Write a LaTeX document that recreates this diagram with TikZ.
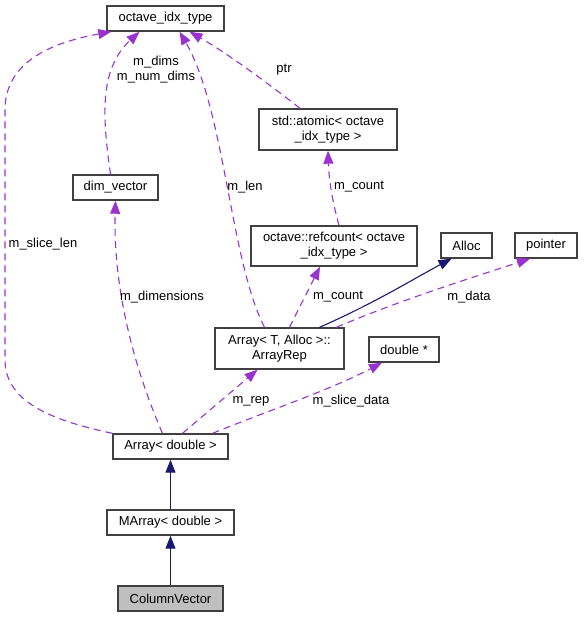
\documentclass[tikz,border=0pt]{standalone}
\usepackage{fontspec}
\setmainfont{Liberation Sans}
\usetikzlibrary{arrows.meta}
\definecolor{dep}{HTML}{9A32CD}
\definecolor{inh}{HTML}{191970}
\definecolor{bord}{HTML}{404040}
\tikzset{
  cls/.style={draw=bord, line width=1.4pt, fill=white, inner sep=0pt, align=center,
    font=\fontsize{13}{15}\selectfont, text=black},
  depline/.style={draw=dep, line width=1.1pt, dash pattern=on 7pt off 5pt,
    -{Triangle[length=13pt,width=10pt,color=dep,fill=dep]}},
  inhline/.style={draw=inh, line width=1.1pt,
    -{Triangle[length=13pt,width=10pt,color=inh,fill=inh]}},
  lbl/.style={font=\fontsize{13}{15}\selectfont, inner sep=0pt, align=center}
}
\begin{document}
\begin{tikzpicture}[x=1pt,y=-1pt]
\useasboundingbox (0,0) rectangle (583,617);
% nodes
\node[cls, minimum width=117, minimum height=25] (oit) at (165.5,18.5) {octave\_idx\_type};
\node[cls, minimum width=138, minimum height=41] (atom) at (328,129.5) {std::atomic< octave\\\_idx\_type >};
\node[cls, minimum width=85, minimum height=25] (dimv) at (115.5,187.5) {dim\_vector};
\node[cls, minimum width=166, minimum height=40] (refc) at (334,246) {octave::refcount< octave\\\_idx\_type >};
\node[cls, minimum width=51, minimum height=25] (alloc) at (466.5,245.5) {Alloc};
\node[cls, minimum width=62, minimum height=25] (ptr) at (546,245.5) {pointer};
\node[cls, minimum width=129, minimum height=41] (arep) at (279.5,348.5) {Array< T, Alloc >::\\ArrayRep};
\node[cls, minimum width=70, minimum height=25] (dbl) at (404,349.5) {double *};
\node[cls, minimum width=115, minimum height=25] (arrd) at (170.5,446.5) {Array< double >};
\node[cls, minimum width=127, minimum height=25] (marr) at (170.5,522.5) {MArray< double >};
\node[cls, minimum width=105, minimum height=25, fill={rgb,255:red,191;green,191;blue,191}] (colv) at (170.5,598.5) {ColumnVector};

% inheritance
\draw[inhline] (colv.north) -- (marr.south);
\draw[inhline] (marr.north) -- (arrd.south);
\draw[inhline] ([xshift=40]arep.north) .. controls (375,303) and (415,278) .. ([xshift=-15]alloc.south);

% dependencies
\draw[depline] (arrd.north west) .. controls (60,422) and (5,405) .. (5,360) -- (5,110)
   .. controls (5,60) and (55,42) .. ([xshift=5]oit.south west);
\draw[depline] ([xshift=-8]arrd.north) .. controls (135,370) and (113,290) .. (dimv.south);
\draw[depline] ([xshift=12]arrd.north) -- ([xshift=-22]arep.south);
\draw[depline] ([xshift=42]arrd.north) .. controls (270,410) and (330,390) .. ([xshift=-22]dbl.south);
\draw[depline] ([xshift=-5]dimv.north) .. controls (103,120) and (98,70) .. ([xshift=-26]oit.south);
\draw[depline] ([xshift=-15]arep.north) .. controls (230,260) and (225,110) .. ([xshift=14]oit.south);
\draw[depline] ([xshift=-28]atom.north) .. controls (270,85) and (230,55) .. ([xshift=24]oit.south);
\draw[depline] ([xshift=5]refc.north) .. controls (332,200) and (329,180) .. (atom.south);
\draw[depline] ([xshift=10]arep.north) -- ([xshift=-14]refc.south);
\draw[depline] ([xshift=57]arep.north) .. controls (400,300) and (480,275) .. ([xshift=-16]ptr.south);

% labels
\node[lbl] (l1) at (156,70) {m\_dims\\m\_num\_dims};
\node[lbl] (l2) at (284,70) {ptr};
\node[lbl] (l3) at (245,187) {m\_len};
\node[lbl] (l4) at (359,187) {m\_count};
\node[lbl] (l5) at (338,297) {m\_count};
\node[lbl] (l6) at (469,297) {m\_data};
\node[lbl] (l7) at (43,244) {m\_slice\_len};
\node[lbl] (l8) at (162,297) {m\_dimensions};
\node[lbl] (l9) at (251,401) {m\_rep};
\node[lbl] (l10) at (351,401) {m\_slice\_data};
\end{tikzpicture}
\end{document}
